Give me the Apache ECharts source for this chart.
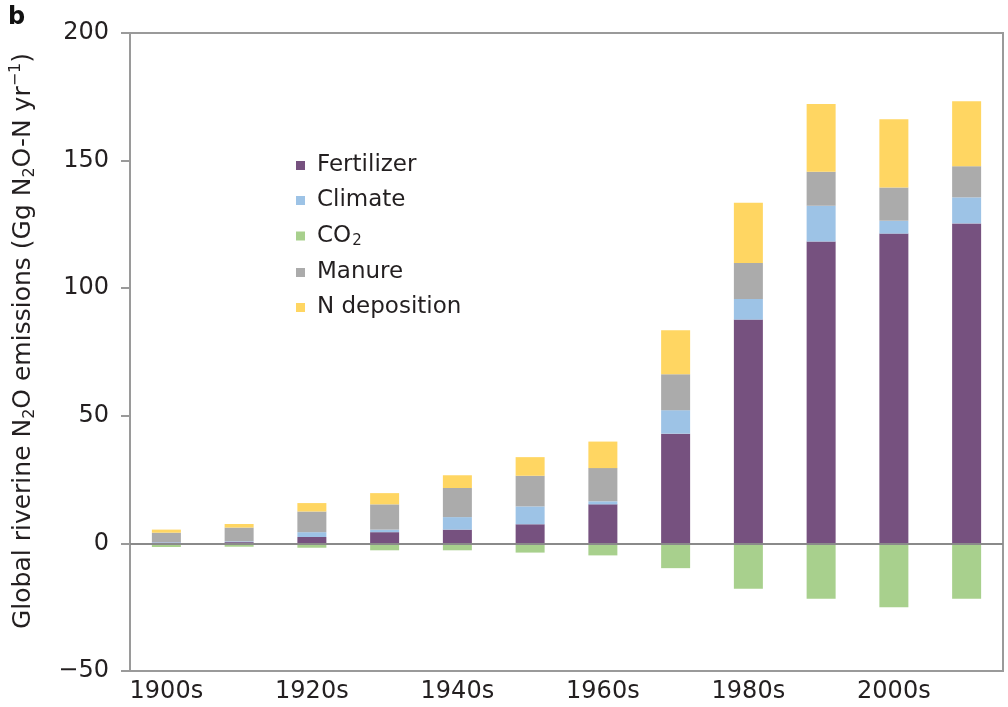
<!DOCTYPE html>
<html>
<head>
<meta charset="utf-8">
<script src="https://cdn.jsdelivr.net/npm/echarts@6/dist/echarts.min.js"></script>
<style>
html,body{margin:0;padding:0;background:#fff;}
#chart{width:1008px;height:707px;}
</style>
</head>
<body>
<div id="chart"></div>
<script>
var categories = ['1900s','1910s','1920s','1930s','1940s','1950s','1960s','1970s','1980s','1990s','2000s','2010s'];
var fertilizer = [0.3, 0.5, 2.5, 4.4, 5.4, 7.5, 15.3, 43.0, 87.7, 118.3, 121.4, 125.4];
var climate    = [0.2, 0.3, 1.9, 1.0, 4.9, 7.0, 1.2, 9.2, 8.1, 14.0, 5.0, 10.2];
var co2        = [-1.4, -1.3, -1.7, -2.7, -2.7, -3.6, -4.7, -9.7, -17.8, -21.7, -25.0, -21.7];
var manure     = [3.7, 5.4, 8.1, 9.9, 11.4, 12.0, 13.0, 14.1, 14.1, 13.3, 13.1, 12.2];
var nDeposition= [1.2, 1.4, 3.3, 4.4, 5.0, 7.3, 10.4, 17.2, 23.6, 26.6, 26.7, 25.5];
var yTicks = [-50, 0, 50, 100, 150, 200];

var chart = echarts.init(document.getElementById('chart'));
var font = 'DejaVu Sans, Verdana, sans-serif';
var txt = '#231f20';
var axisGray = '#9a9a9a';

function bar(name, data, color) {
  return {
    name: name, type: 'bar', stack: 'total', data: data,
    barWidth: 29, itemStyle: {color: color}, emphasis: {disabled: true}
  };
}

var series = [
  bar('Fertilizer', fertilizer, '#76517f'),
  bar('Climate', climate, '#9dc3e6'),
  bar('CO2', co2, '#a8d08d'),
  bar('Manure', manure, '#ababab'),
  bar('N deposition', nDeposition, '#ffd662')
];
series[0].markLine = {
  silent: true, symbol: 'none', label: {show: false},
  lineStyle: {color: '#8a8a8a', width: 2, type: 'solid'},
  data: [{yAxis: 0}]
};

var option = {
  animation: false,
  backgroundColor: '#fff',
  title: {
    text: 'b', left: 3, top: 1,
    textStyle: {fontFamily: font, fontSize: 24, fontWeight: 'bold', color: '#111'}
  },
  grid: {
    left: 127, right: 5, top: 33, bottom: 36,
    show: true, borderColor: axisGray, borderWidth: 2
  },
  legend: {
    orient: 'vertical', left: 291, top: 149,
    itemWidth: 9, itemHeight: 9, itemGap: 12, icon: 'rect',
    data: ['Fertilizer','Climate','CO2','Manure','N deposition'],
    formatter: function (n) { return n === 'CO2' ? '{a|CO}{s|2}' : '{a|' + n + '}'; },
    textStyle: {
      fontFamily: font, fontSize: 23, color: txt, padding: [0,0,0,7],
      rich: {
        a: {fontFamily: font, fontSize: 23, color: txt, lineHeight: 26, verticalAlign: 'middle'},
        s: {fontFamily: font, fontSize: 15, color: txt, lineHeight: 26, verticalAlign: 'bottom', padding: [10,0,0,1]}
      }
    }
  },
  xAxis: {
    type: 'category', data: categories,
    axisLine: {show: true, lineStyle: {color: axisGray, width: 2}},
    axisTick: {show: false},
    axisLabel: {interval: 1, margin: 9, fontFamily: font, fontSize: 24, color: txt}
  },
  yAxis: {
    type: 'value', min: -50, max: 200, interval: 50,
    axisLine: {show: true, lineStyle: {color: axisGray, width: 2}},
    axisTick: {show: true, inside: false, length: 9, lineStyle: {color: axisGray, width: 2}},
    splitLine: {show: false},
    axisLabel: {
      margin: 21, fontFamily: font, fontSize: 24, color: txt,
      formatter: function (v) { return yTicks.indexOf(v) >= 0 ? (v < 0 ? '\u2212' + Math.abs(v) : String(v)) : ''; }
    },
    name: '{a|Global riverine N}{s|2}{a|O emissions (Gg N}{s|2}{a|O-N yr}{p|\u22121}{a|)}',
    nameLocation: 'middle', nameRotate: 90, nameGap: 92,
    nameTextStyle: {
      fontFamily: font, fontSize: 25, color: txt, padding: [0, 0, 0, 22],
      rich: {
        a: {fontFamily: font, fontSize: 25, color: txt, lineHeight: 30, verticalAlign: 'middle'},
        s: {fontFamily: font, fontSize: 16, color: txt, lineHeight: 30, verticalAlign: 'bottom', padding: [11,0,0,0]},
        p: {fontFamily: font, fontSize: 16, color: txt, lineHeight: 30, verticalAlign: 'top', padding: [0,0,11,0]}
      }
    }
  },
  series: series
};
chart.setOption(option);
</script>
</body>
</html>
